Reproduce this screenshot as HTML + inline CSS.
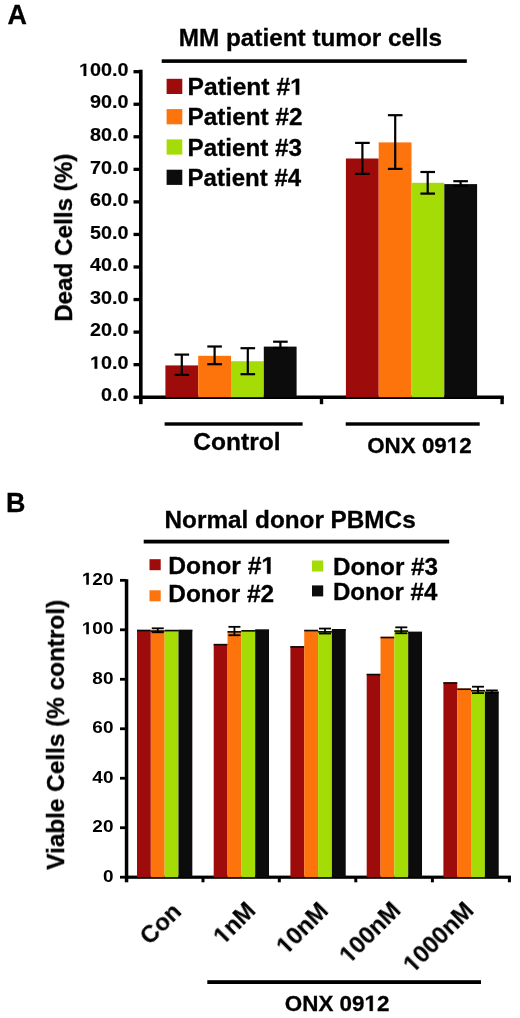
<!DOCTYPE html>
<html><head><meta charset="utf-8"><style>
html,body{margin:0;padding:0;background:#fff;}
svg{display:block;}
text{will-change:transform;stroke:#000;stroke-width:0.3px;}
text.t{stroke-width:0.15px;}
text.tb{stroke-width:0px;}
text{font-family:"Liberation Sans",sans-serif;font-weight:bold;}
tspan.h{fill-opacity:0;stroke-opacity:0;}
polygon.one{will-change:transform;stroke:#000;stroke-width:0.3px;}
polygon.one.t{stroke-width:0.15px;}
polygon.one.tb{stroke-width:0px;}
</style></head><body>
<svg width="520" height="1018" viewBox="0 0 520 1018">
<rect width="520" height="1018" fill="#fff"/>
<text x="7.43" y="24.10" font-size="26.90" fill="#000">A</text>
<text x="178.77" y="46.30" font-size="24.30" fill="#000">MM patient tumor cells</text>
<rect x="161.70" y="59.30" width="305.10" height="3.60" fill="#000" />
<rect x="166.60" y="78.80" width="15.70" height="15.20" fill="#9e0b0b" />
<text id="t4" x="187.55" y="94.80" font-size="23.20" textLength="116.21" lengthAdjust="spacingAndGlyphs" fill="#000">Patient #<tspan class="h">1</tspan></text>
<rect x="166.60" y="109.10" width="15.70" height="15.20" fill="#fd730c" />
<text x="187.57" y="125.30" font-size="23.20" textLength="114.90" lengthAdjust="spacingAndGlyphs" fill="#000">Patient #2</text>
<rect x="166.60" y="139.40" width="15.70" height="15.20" fill="#a5dc06" />
<text x="187.58" y="155.80" font-size="23.20" textLength="114.29" lengthAdjust="spacingAndGlyphs" fill="#000">Patient #3</text>
<rect x="166.60" y="169.70" width="15.70" height="15.20" fill="#0c0c0c" />
<text x="187.59" y="186.30" font-size="23.20" textLength="113.54" lengthAdjust="spacingAndGlyphs" fill="#000">Patient #4</text>
<rect x="139.00" y="69.70" width="3.60" height="334.50" fill="#000" />
<rect x="139.00" y="395.50" width="364.80" height="3.50" fill="#000" />
<rect x="133.50" y="395.55" width="6.50" height="3.30" fill="#000" />
<text class="t" x="100.94" y="401.40" font-size="17.80" textLength="27.47" lengthAdjust="spacingAndGlyphs" fill="#000">0.0</text>
<rect x="133.50" y="363.00" width="6.50" height="3.30" fill="#000" />
<text id="t16" class="t" x="89.96" y="368.85" font-size="17.80" textLength="38.45" lengthAdjust="spacingAndGlyphs" fill="#000"><tspan class="h">1</tspan>0.0</text>
<rect x="133.50" y="330.45" width="6.50" height="3.30" fill="#000" />
<text class="t" x="89.96" y="336.30" font-size="17.80" textLength="38.45" lengthAdjust="spacingAndGlyphs" fill="#000">20.0</text>
<rect x="133.50" y="297.90" width="6.50" height="3.30" fill="#000" />
<text class="t" x="89.96" y="303.75" font-size="17.80" textLength="38.45" lengthAdjust="spacingAndGlyphs" fill="#000">30.0</text>
<rect x="133.50" y="265.35" width="6.50" height="3.30" fill="#000" />
<text class="t" x="89.96" y="271.20" font-size="17.80" textLength="38.45" lengthAdjust="spacingAndGlyphs" fill="#000">40.0</text>
<rect x="133.50" y="232.80" width="6.50" height="3.30" fill="#000" />
<text class="t" x="89.96" y="238.65" font-size="17.80" textLength="38.45" lengthAdjust="spacingAndGlyphs" fill="#000">50.0</text>
<rect x="133.50" y="200.25" width="6.50" height="3.30" fill="#000" />
<text class="t" x="89.96" y="206.10" font-size="17.80" textLength="38.45" lengthAdjust="spacingAndGlyphs" fill="#000">60.0</text>
<rect x="133.50" y="167.70" width="6.50" height="3.30" fill="#000" />
<text class="t" x="89.96" y="173.55" font-size="17.80" textLength="38.45" lengthAdjust="spacingAndGlyphs" fill="#000">70.0</text>
<rect x="133.50" y="135.15" width="6.50" height="3.30" fill="#000" />
<text class="t" x="89.96" y="141.00" font-size="17.80" textLength="38.45" lengthAdjust="spacingAndGlyphs" fill="#000">80.0</text>
<rect x="133.50" y="102.60" width="6.50" height="3.30" fill="#000" />
<text class="t" x="89.96" y="108.45" font-size="17.80" textLength="38.45" lengthAdjust="spacingAndGlyphs" fill="#000">90.0</text>
<rect x="133.50" y="70.05" width="6.50" height="3.30" fill="#000" />
<text id="t34" class="t" x="78.97" y="75.90" font-size="17.80" textLength="49.44" lengthAdjust="spacingAndGlyphs" fill="#000"><tspan class="h">1</tspan>00.0</text>
<rect x="319.80" y="397.00" width="3.40" height="7.20" fill="#000" />
<rect x="500.40" y="397.00" width="3.40" height="7.20" fill="#000" />
<rect x="165.40" y="365.40" width="32.80" height="31.80" fill="#9e0b0b" />
<rect x="198.20" y="355.80" width="32.80" height="41.40" fill="#fd730c" />
<rect x="231.00" y="361.20" width="32.80" height="36.00" fill="#a5dc06" />
<rect x="263.80" y="346.60" width="32.80" height="50.60" fill="#0c0c0c" />
<rect x="345.90" y="158.50" width="32.80" height="238.70" fill="#9e0b0b" />
<rect x="378.70" y="142.40" width="32.80" height="254.80" fill="#fd730c" />
<rect x="411.50" y="182.80" width="32.80" height="214.40" fill="#a5dc06" />
<rect x="444.30" y="184.10" width="32.80" height="213.10" fill="#0c0c0c" />
<rect x="180.70" y="354.60" width="2.20" height="20.30" fill="#000" />
<rect x="174.50" y="353.50" width="14.60" height="2.20" fill="#000" />
<rect x="174.50" y="373.80" width="14.60" height="2.20" fill="#000" />
<rect x="213.50" y="346.50" width="2.20" height="17.70" fill="#000" />
<rect x="207.30" y="345.40" width="14.60" height="2.20" fill="#000" />
<rect x="207.30" y="363.10" width="14.60" height="2.20" fill="#000" />
<rect x="246.70" y="348.20" width="2.20" height="26.00" fill="#000" />
<rect x="240.50" y="347.10" width="14.60" height="2.20" fill="#000" />
<rect x="240.50" y="373.10" width="14.60" height="2.20" fill="#000" />
<rect x="279.30" y="341.70" width="2.20" height="6.30" fill="#000" />
<rect x="273.10" y="340.60" width="14.60" height="2.20" fill="#000" />
<rect x="273.10" y="346.90" width="14.60" height="2.20" fill="#000" />
<rect x="361.30" y="142.90" width="2.20" height="31.00" fill="#000" />
<rect x="355.10" y="141.80" width="14.60" height="2.20" fill="#000" />
<rect x="355.10" y="172.80" width="14.60" height="2.20" fill="#000" />
<rect x="394.10" y="115.20" width="2.20" height="53.70" fill="#000" />
<rect x="387.90" y="114.10" width="14.60" height="2.20" fill="#000" />
<rect x="387.90" y="167.80" width="14.60" height="2.20" fill="#000" />
<rect x="426.60" y="172.00" width="2.20" height="21.60" fill="#000" />
<rect x="420.40" y="170.90" width="14.60" height="2.20" fill="#000" />
<rect x="420.40" y="192.50" width="14.60" height="2.20" fill="#000" />
<rect x="459.50" y="181.20" width="2.20" height="4.80" fill="#000" />
<rect x="453.30" y="180.10" width="14.60" height="2.20" fill="#000" />
<rect x="453.30" y="184.90" width="14.60" height="2.20" fill="#000" />
<rect x="164.60" y="422.30" width="138.00" height="3.40" fill="#000" />
<rect x="345.70" y="422.30" width="134.00" height="3.40" fill="#000" />
<text x="193.29" y="450.00" font-size="24.00" textLength="87.24" lengthAdjust="spacingAndGlyphs" fill="#000">Control</text>
<text id="t72" x="367.18" y="453.00" font-size="22.20" textLength="104.51" lengthAdjust="spacingAndGlyphs" fill="#000">ONX 09<tspan class="h">1</tspan>2</text>
<text transform="translate(72.00,320.20) rotate(-90)" x="-1.62" y="0.00" font-size="24.40" textLength="168.12" lengthAdjust="spacingAndGlyphs" fill="#000">Dead Cells (%)</text>
<text x="5.90" y="512.30" font-size="26.90" fill="#000">B</text>
<text x="164.58" y="528.30" font-size="24.30" fill="#000">Normal donor PBMCs</text>
<rect x="143.70" y="539.70" width="305.50" height="3.80" fill="#000" />
<rect x="149.50" y="559.20" width="11.20" height="11.00" fill="#9e0b0b" />
<rect x="149.50" y="590.30" width="11.20" height="11.00" fill="#fd730c" />
<rect x="312.00" y="560.50" width="11.20" height="11.00" fill="#a5dc06" />
<rect x="312.00" y="585.40" width="11.20" height="11.00" fill="#0c0c0c" />
<text id="t81" x="168.35" y="573.80" font-size="24.00" textLength="106.72" lengthAdjust="spacingAndGlyphs" fill="#000">Donor #<tspan class="h">1</tspan></text>
<text x="168.37" y="602.30" font-size="24.00" textLength="105.71" lengthAdjust="spacingAndGlyphs" fill="#000">Donor #2</text>
<text x="332.98" y="574.60" font-size="24.00" textLength="105.10" lengthAdjust="spacingAndGlyphs" fill="#000">Donor #3</text>
<text x="332.99" y="599.50" font-size="24.00" textLength="104.34" lengthAdjust="spacingAndGlyphs" fill="#000">Donor #4</text>
<rect x="124.80" y="579.20" width="3.50" height="303.10" fill="#000" />
<rect x="124.80" y="875.60" width="386.20" height="3.20" fill="#000" />
<rect x="120.00" y="875.80" width="6.00" height="2.80" fill="#000" />
<text class="tb" x="102.93" y="881.70" font-size="17.40" textLength="10.55" lengthAdjust="spacingAndGlyphs" fill="#000">0</text>
<rect x="120.00" y="826.32" width="6.00" height="2.80" fill="#000" />
<text class="tb" x="92.38" y="832.22" font-size="17.40" textLength="21.10" lengthAdjust="spacingAndGlyphs" fill="#000">20</text>
<rect x="120.00" y="776.84" width="6.00" height="2.80" fill="#000" />
<text class="tb" x="92.38" y="782.74" font-size="17.40" textLength="21.10" lengthAdjust="spacingAndGlyphs" fill="#000">40</text>
<rect x="120.00" y="727.36" width="6.00" height="2.80" fill="#000" />
<text class="tb" x="92.38" y="733.26" font-size="17.40" textLength="21.10" lengthAdjust="spacingAndGlyphs" fill="#000">60</text>
<rect x="120.00" y="677.88" width="6.00" height="2.80" fill="#000" />
<text class="tb" x="92.38" y="683.78" font-size="17.40" textLength="21.10" lengthAdjust="spacingAndGlyphs" fill="#000">80</text>
<rect x="120.00" y="628.40" width="6.00" height="2.80" fill="#000" />
<text id="t98" class="tb" x="81.83" y="634.30" font-size="17.40" textLength="31.64" lengthAdjust="spacingAndGlyphs" fill="#000"><tspan class="h">1</tspan>00</text>
<rect x="120.00" y="578.92" width="6.00" height="2.80" fill="#000" />
<text id="t100" class="tb" x="81.83" y="584.82" font-size="17.40" textLength="31.64" lengthAdjust="spacingAndGlyphs" fill="#000"><tspan class="h">1</tspan>20</text>
<rect x="201.50" y="877.00" width="3.00" height="5.30" fill="#000" />
<rect x="277.80" y="877.00" width="3.00" height="5.30" fill="#000" />
<rect x="354.30" y="877.00" width="3.00" height="5.30" fill="#000" />
<rect x="430.90" y="877.00" width="3.00" height="5.30" fill="#000" />
<rect x="507.90" y="877.00" width="3.00" height="5.30" fill="#000" />
<rect x="137.00" y="629.80" width="13.83" height="247.40" fill="#9e0b0b" />
<rect x="137.00" y="629.80" width="13.83" height="1.60" fill="#0c0c0c" />
<rect x="150.83" y="630.29" width="13.83" height="246.91" fill="#fd730c" />
<rect x="150.83" y="630.29" width="13.83" height="1.60" fill="#0c0c0c" />
<rect x="164.66" y="629.80" width="13.83" height="247.40" fill="#a5dc06" />
<rect x="164.66" y="629.80" width="13.83" height="1.60" fill="#0c0c0c" />
<rect x="178.49" y="629.80" width="13.83" height="247.40" fill="#0c0c0c" />
<rect x="178.49" y="629.80" width="13.83" height="1.60" fill="#0c0c0c" />
<rect x="156.84" y="628.32" width="1.80" height="3.96" fill="#000" />
<rect x="151.75" y="627.42" width="12.00" height="1.80" fill="#000" />
<rect x="151.75" y="631.37" width="12.00" height="1.80" fill="#000" />
<rect x="213.70" y="643.90" width="13.83" height="233.30" fill="#9e0b0b" />
<rect x="213.70" y="643.90" width="13.83" height="1.60" fill="#0c0c0c" />
<rect x="227.53" y="631.04" width="13.83" height="246.16" fill="#fd730c" />
<rect x="227.53" y="631.04" width="13.83" height="1.60" fill="#0c0c0c" />
<rect x="241.36" y="630.05" width="13.83" height="247.15" fill="#a5dc06" />
<rect x="241.36" y="630.05" width="13.83" height="1.60" fill="#0c0c0c" />
<rect x="255.19" y="629.55" width="13.83" height="247.65" fill="#0c0c0c" />
<rect x="255.19" y="629.55" width="13.83" height="1.60" fill="#0c0c0c" />
<rect x="233.54" y="626.83" width="1.80" height="8.41" fill="#000" />
<rect x="228.44" y="625.93" width="12.00" height="1.80" fill="#000" />
<rect x="228.44" y="634.34" width="12.00" height="1.80" fill="#000" />
<rect x="290.40" y="646.13" width="13.83" height="231.07" fill="#9e0b0b" />
<rect x="290.40" y="646.13" width="13.83" height="1.60" fill="#0c0c0c" />
<rect x="304.23" y="629.80" width="13.83" height="247.40" fill="#fd730c" />
<rect x="304.23" y="629.80" width="13.83" height="1.60" fill="#0c0c0c" />
<rect x="318.06" y="631.04" width="13.83" height="246.16" fill="#a5dc06" />
<rect x="318.06" y="631.04" width="13.83" height="1.60" fill="#0c0c0c" />
<rect x="331.89" y="629.06" width="13.83" height="248.14" fill="#0c0c0c" />
<rect x="331.89" y="629.06" width="13.83" height="1.60" fill="#0c0c0c" />
<rect x="324.08" y="628.56" width="1.80" height="4.95" fill="#000" />
<rect x="318.98" y="627.66" width="12.00" height="1.80" fill="#000" />
<rect x="318.98" y="632.61" width="12.00" height="1.80" fill="#000" />
<rect x="366.70" y="673.84" width="13.83" height="203.36" fill="#9e0b0b" />
<rect x="366.70" y="673.84" width="13.83" height="1.60" fill="#0c0c0c" />
<rect x="380.53" y="636.73" width="13.83" height="240.47" fill="#fd730c" />
<rect x="380.53" y="636.73" width="13.83" height="1.60" fill="#0c0c0c" />
<rect x="394.36" y="630.29" width="13.83" height="246.91" fill="#a5dc06" />
<rect x="394.36" y="630.29" width="13.83" height="1.60" fill="#0c0c0c" />
<rect x="408.19" y="631.78" width="13.83" height="245.42" fill="#0c0c0c" />
<rect x="408.19" y="631.78" width="13.83" height="1.60" fill="#0c0c0c" />
<rect x="400.38" y="627.33" width="1.80" height="5.94" fill="#000" />
<rect x="395.28" y="626.43" width="12.00" height="1.80" fill="#000" />
<rect x="395.28" y="632.36" width="12.00" height="1.80" fill="#000" />
<rect x="443.40" y="682.25" width="13.83" height="194.95" fill="#9e0b0b" />
<rect x="443.40" y="682.25" width="13.83" height="1.60" fill="#0c0c0c" />
<rect x="457.23" y="688.43" width="13.83" height="188.77" fill="#fd730c" />
<rect x="457.23" y="688.43" width="13.83" height="1.60" fill="#0c0c0c" />
<rect x="471.06" y="689.92" width="13.83" height="187.28" fill="#a5dc06" />
<rect x="471.06" y="689.92" width="13.83" height="1.60" fill="#0c0c0c" />
<rect x="484.89" y="691.65" width="13.83" height="185.55" fill="#0c0c0c" />
<rect x="484.89" y="691.65" width="13.83" height="1.60" fill="#0c0c0c" />
<rect x="477.08" y="686.70" width="1.80" height="6.43" fill="#000" />
<rect x="471.98" y="685.80" width="12.00" height="1.80" fill="#000" />
<rect x="471.98" y="692.23" width="12.00" height="1.80" fill="#000" />
<rect x="490.91" y="690.41" width="1.80" height="2.47" fill="#000" />
<rect x="485.81" y="689.51" width="12.00" height="1.80" fill="#000" />
<rect x="485.81" y="691.99" width="12.00" height="1.80" fill="#000" />
<text class="t" transform="translate(181.70,914.00) rotate(-45)" x="-45.16" y="0" font-size="24.0" textLength="46.65" lengthAdjust="spacingAndGlyphs" fill="#000">Con</text>
<text id="t165" class="t" transform="translate(255.90,913.00) rotate(-45)" x="-46.39" y="0" font-size="24.0" textLength="48.00" lengthAdjust="spacingAndGlyphs" fill="#000"><tspan class="h">1</tspan>nM</text>
<text id="t166" class="t" transform="translate(328.30,913.50) rotate(-45)" x="-59.74" y="0" font-size="24.0" textLength="61.35" lengthAdjust="spacingAndGlyphs" fill="#000"><tspan class="h">1</tspan>0nM</text>
<text id="t167" class="t" transform="translate(400.80,913.00) rotate(-45)" x="-73.09" y="0" font-size="24.0" textLength="74.70" lengthAdjust="spacingAndGlyphs" fill="#000"><tspan class="h">1</tspan>00nM</text>
<text id="t168" class="t" transform="translate(474.10,912.90) rotate(-45)" x="-86.44" y="0" font-size="24.0" textLength="88.04" lengthAdjust="spacingAndGlyphs" fill="#000"><tspan class="h">1</tspan>000nM</text>
<rect x="207.30" y="980.20" width="273.70" height="3.80" fill="#000" />
<text id="t170" x="284.88" y="1011.00" font-size="22.20" textLength="104.51" lengthAdjust="spacingAndGlyphs" fill="#000">ONX 09<tspan class="h">1</tspan>2</text>
<text transform="translate(64.00,869.60) rotate(-90)" x="-0.17" y="0.00" font-size="24.40" textLength="269.98" lengthAdjust="spacingAndGlyphs" fill="#000">Viable Cells (% control)</text>
<polygon class="one" points="295.82,94.80 299.19,94.80 299.19,78.84 296.00,78.84 291.75,81.43 291.75,83.94 295.82,81.55" fill="#000"/>
<polygon class="one t" points="94.57,368.85 97.28,368.85 97.28,356.60 94.72,356.60 91.31,358.59 91.31,360.51 94.57,358.68" fill="#000"/>
<polygon class="one t" points="83.58,75.90 86.29,75.90 86.29,63.65 83.73,63.65 80.32,65.64 80.32,67.56 83.58,65.73" fill="#000"/>
<polygon class="one" points="452.02,453.00 455.09,453.00 455.09,437.73 452.18,437.73 448.32,440.21 448.32,442.60 452.02,440.32" fill="#000"/>
<polygon class="one" points="267.12,573.80 270.50,573.80 270.50,557.29 267.30,557.29 263.05,559.97 263.05,562.56 267.12,560.09" fill="#000"/>
<polygon class="one tb" points="86.26,634.30 88.86,634.30 88.86,622.33 86.39,622.33 83.13,624.27 83.13,626.15 86.26,624.36" fill="#000"/>
<polygon class="one tb" points="86.26,584.82 88.86,584.82 88.86,572.85 86.39,572.85 83.13,574.79 83.13,576.67 86.26,574.88" fill="#000"/>
<polygon class="one t" points="-40.79,0.00 -37.49,0.00 -37.49,-16.51 -40.61,-16.51 -44.75,-13.83 -44.75,-11.24 -40.79,-13.71" fill="#000" transform="translate(255.90,913.00) rotate(-45)"/>
<polygon class="one t" points="-54.13,0.00 -50.84,0.00 -50.84,-16.51 -53.96,-16.51 -58.10,-13.83 -58.10,-11.24 -54.13,-13.71" fill="#000" transform="translate(328.30,913.50) rotate(-45)"/>
<polygon class="one t" points="-67.48,0.00 -64.19,0.00 -64.19,-16.51 -67.31,-16.51 -71.45,-13.83 -71.45,-11.24 -67.48,-13.71" fill="#000" transform="translate(400.80,913.00) rotate(-45)"/>
<polygon class="one t" points="-80.83,0.00 -77.54,0.00 -77.54,-16.51 -80.66,-16.51 -84.80,-13.83 -84.80,-11.24 -80.83,-13.71" fill="#000" transform="translate(474.10,912.90) rotate(-45)"/>
<polygon class="one" points="369.72,1011.00 372.79,1011.00 372.79,995.73 369.88,995.73 366.02,998.21 366.02,1000.60 369.72,998.32" fill="#000"/>
</svg>
</body></html>
